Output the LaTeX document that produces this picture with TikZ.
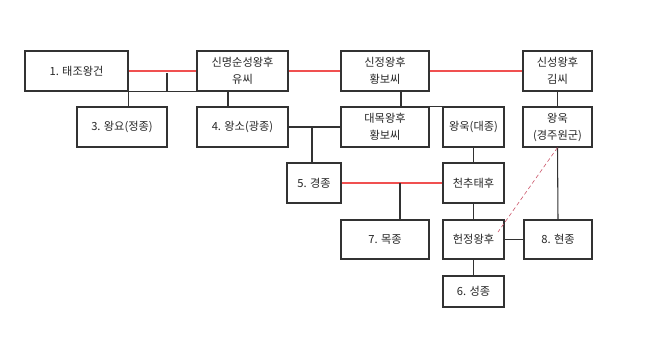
\documentclass[tikz,border=0pt]{standalone}
\usepackage{fontspec}
\setmainfont{Noto Sans CJK KR}
\definecolor{lred}{RGB}{240,80,80}
\definecolor{dred}{RGB}{205,90,110}
\definecolor{lnk}{RGB}{50,50,50}
\begin{document}
\begin{tikzpicture}[x=0.75pt,y=-0.75pt,
  box/.style={draw=lnk,line width=0.8pt,fill=white,inner sep=0pt,align=center,
    font=\fontsize{8.4}{12.75}\selectfont,text=black!85},
  con/.style={draw=lnk,line width=0.8pt},
  rcon/.style={draw=lred,line width=0.8pt},
  dcon/.style={draw=dred,line width=0.45pt,densely dashed}]
\useasboundingbox[fill=white] (0,0) rectangle (650,355);
\coordinate (j1) at (167,73);
\coordinate (j2) at (228,91);
\coordinate (j3) at (312,127);
\coordinate (j4) at (401,91);
\coordinate (j5) at (400,183);
\coordinate (dend) at (498,232);
% boxes
\node[box,minimum width=77.25pt,minimum height=30pt] (n1) at (76.5,71) {1. 태조왕건};
\node[box,minimum width=68.25pt,minimum height=30pt] (n2) at (242.5,71) {신명순성왕후\\유씨};
\node[box,minimum width=67.5pt,minimum height=30pt] (n3) at (122,127) {3. 왕요(정종)};
\node[box,minimum width=68.25pt,minimum height=30pt] (n4) at (242.5,127) {4. 왕소(광종)};
\node[box,minimum width=66pt,minimum height=30pt] (n5) at (385,71) {신정왕후\\황보씨};
\node[box,minimum width=51.75pt,minimum height=30pt] (n6) at (557.5,71) {신성왕후\\김씨};
\node[box,minimum width=66pt,minimum height=30pt] (n7) at (385,127) {대목왕후\\황보씨};
\node[box,minimum width=45.75pt,minimum height=30pt] (n8) at (473.5,127) {왕욱(대종)};
\node[box,minimum width=51.75pt,minimum height=30pt] (n9) at (557.5,127) {왕욱\\(경주원군)};
\node[box,minimum width=40.5pt,minimum height=30pt] (n10) at (314,183) {5. 경종};
\node[box,minimum width=45.75pt,minimum height=30pt] (n11) at (473.5,183) {천추태후};
\node[box,minimum width=66pt,minimum height=29.25pt] (n12) at (385,239.5) {7. 목종};
\node[box,minimum width=45.75pt,minimum height=29.25pt] (n13) at (473.5,239.5) {헌정왕후};
\node[box,minimum width=51pt,minimum height=29.25pt] (n14) at (558,239.5) {8. 현종};
\node[box,minimum width=45.75pt,minimum height=23.25pt] (n15) at (473.5,291.5) {6. 성종};
% connectors
\draw[rcon] (n1.east) -- (n2.west);
\draw[con] (j1) -- (j1 |- n1.south);
\draw[con] (n1.south east) -- (n2.south west);
\draw[con] (n1.south east) -- (n1.south east |- n3.north);
\draw[con] (j2) -- (j2 |- n4.north);
\draw[rcon] (n2.east) -- (n5.west);
\draw[rcon] (n5.east) -- (n6.west);
\draw[con] (n4.east) -- (n7.west);
\draw[con] (j3) -- (j3 |- n10.north);
\draw[con] (j4) -- (j4 |- n7.north) -- (n8.north west);
\draw[con] (n6.south) -- (n9.north);
\draw[con] (n8.south) -- (n11.north);
\draw[rcon] (n10.east) -- (n11.west);
\draw[con] (j5) -- (j5 |- n12.north);
\draw[con] (n11.south) -- (n13.north);
\draw[con] (n13.east) -- (n14.west);
\draw[con] (n9.south) -- (n14.north);
\draw[con] (n13.south) -- (n15.north);
\draw[dcon] (n9.south) -- (dend);
\end{tikzpicture}
\end{document}
